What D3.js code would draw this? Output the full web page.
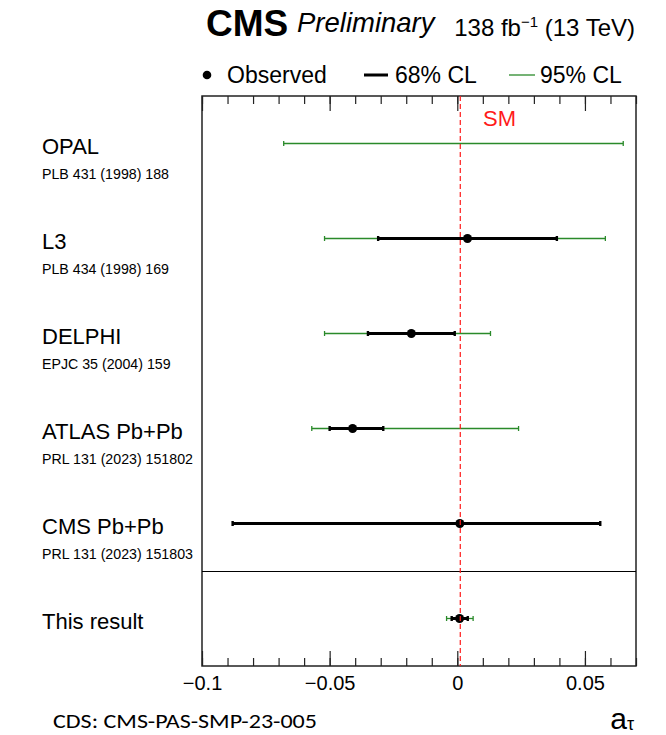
<!DOCTYPE html>
<html>
<head>
<meta charset="utf-8">
<title>a_tau summary</title>
<script src="https://cdn.jsdelivr.net/npm/d3@7"></script>
<style>
  body { margin: 0; background: #fff; }
  svg { display: block; }
</style>
</head>
<body>
<script>
/*jslint white: true */
/*global d3 */
"use strict";

var experiments = ["OPAL", "L3", "DELPHI", "ATLAS Pb+Pb", "CMS Pb+Pb", "This result"];
var references = ["PLB 431 (1998) 188", "PLB 434 (1998) 169", "EPJC 35 (2004) 159",
  "PRL 131 (2023) 151802", "PRL 131 (2023) 151803", ""];
var central = [null, 0.004, -0.018, -0.041, 0.001, 0.0009];
var lo68 = [null, -0.031, -0.035, -0.050, -0.088, -0.0022];
var hi68 = [null, 0.039, -0.001, -0.029, 0.056, 0.0041];
var lo95 = [-0.068, -0.052, -0.052, -0.057, null, -0.0042];
var hi95 = [0.065, 0.058, 0.013, 0.024, null, 0.0062];
var smValue = 0.00117;
var majorTicks = [-0.1, -0.05, 0, 0.05];
var minorTicks = d3.range(-10, 8).map(function (i) { return i / 100; });

(function () {
  var W = 666, H = 735,
    frame = { left: 202, right: 636, top: 96, bottom: 666 },
    green = "#2a8a2a",
    font = "'Liberation Sans', Arial, Helvetica, sans-serif",
    svg, x, y, rows, axisG, fmt;

  svg = d3.select("body").append("svg")
    .attr("width", W)
    .attr("height", H)
    .style("font-family", font);

  x = d3.scaleLinear().domain([-0.1, 0.07]).range([frame.left, frame.right]);
  y = d3.scaleBand().domain(experiments).range([frame.top, frame.bottom]);

  // header
  svg.append("text").text("CMS")
    .attr("x", 206).attr("y", 36)
    .attr("font-size", 37).attr("font-weight", "bold");
  svg.append("text").text("Preliminary")
    .attr("x", 297).attr("y", 32)
    .attr("font-size", 27.5).attr("font-style", "italic");
  (function () {
    var t = svg.append("text").attr("x", 635).attr("y", 36)
      .attr("font-size", 24).attr("text-anchor", "end");
    t.append("tspan").text("138 fb");
    t.append("tspan").text("\u22121").attr("font-size", 15).attr("dy", -9);
    t.append("tspan").text(" (13 TeV)").attr("dy", 9);
  }());

  // legend
  svg.append("circle").attr("cx", 207).attr("cy", 75).attr("r", 4.3).attr("fill", "#000");
  svg.append("text").text("Observed").attr("x", 227).attr("y", 83).attr("font-size", 23);
  svg.append("line").attr("x1", 364).attr("x2", 388).attr("y1", 75).attr("y2", 75)
    .attr("stroke", "#000").attr("stroke-width", 3);
  svg.append("text").text("68% CL").attr("x", 395).attr("y", 83).attr("font-size", 23);
  svg.append("line").attr("x1", 509).attr("x2", 535).attr("y1", 75).attr("y2", 75)
    .attr("stroke", green).attr("stroke-width", 1.3);
  svg.append("text").text("95% CL").attr("x", 540).attr("y", 83).attr("font-size", 23);

  // axes, ticks pointing inward on top and bottom
  fmt = function (d) { return d === 0 ? "0" : d3.format("")(d).replace("-", "\u2212"); };

  axisG = svg.append("g").attr("transform", "translate(0," + frame.bottom + ")")
    .call(d3.axisBottom(x).tickValues(minorTicks).tickSize(-8).tickFormat(""));
  axisG.select(".domain").remove();
  axisG = svg.append("g").attr("transform", "translate(0," + frame.bottom + ")")
    .call(d3.axisBottom(x).tickValues(majorTicks).tickSize(-15).tickPadding(10).tickFormat(fmt));
  axisG.select(".domain").remove();
  axisG.selectAll("text").attr("font-size", 20).attr("font-family", font).attr("fill", "#000");

  axisG = svg.append("g").attr("transform", "translate(0," + frame.top + ")")
    .call(d3.axisTop(x).tickValues(minorTicks).tickSize(-8).tickFormat(""));
  axisG.select(".domain").remove();
  axisG = svg.append("g").attr("transform", "translate(0," + frame.top + ")")
    .call(d3.axisTop(x).tickValues(majorTicks).tickSize(-15).tickFormat(""));
  axisG.select(".domain").remove();
  svg.selectAll(".tick line").attr("stroke", "#222").attr("stroke-width", 1.2);

  // frame and separator
  svg.append("rect")
    .attr("x", frame.left).attr("y", frame.top)
    .attr("width", frame.right - frame.left).attr("height", frame.bottom - frame.top)
    .attr("fill", "none").attr("stroke", "#222").attr("stroke-width", 1.5);
  svg.append("line")
    .attr("x1", frame.left).attr("x2", frame.right)
    .attr("y1", y("This result") + 0.5).attr("y2", y("This result") + 0.5)
    .attr("stroke", "#000").attr("stroke-width", 1.2);

  // row labels
  rows = svg.append("g").selectAll("g").data(experiments).join("g")
    .attr("transform", function (d) { return "translate(0," + (y(d) + y.bandwidth() / 2) + ")"; });
  rows.append("text").text(function (d) { return d; })
    .attr("x", 42).attr("y", 10).attr("font-size", 22);
  rows.append("text").text(function (d, i) { return references[i]; })
    .attr("x", 42).attr("y", 35).attr("font-size", 14.2);

  // 95% CL intervals
  rows.filter(function (d, i) { return lo95[i] !== null; }).each(function (d) {
    var i = experiments.indexOf(d), g = d3.select(this);
    g.append("line").attr("x1", x(lo95[i])).attr("x2", x(hi95[i]))
      .attr("stroke", green).attr("stroke-width", 1.3);
    [lo95[i], hi95[i]].forEach(function (v) {
      g.append("line").attr("x1", x(v)).attr("x2", x(v)).attr("y1", -2.5).attr("y2", 2.5)
        .attr("stroke", green).attr("stroke-width", 1.3);
    });
  });

  // 68% CL intervals
  rows.filter(function (d, i) { return lo68[i] !== null; }).each(function (d) {
    var i = experiments.indexOf(d), g = d3.select(this);
    g.append("line").attr("x1", x(lo68[i])).attr("x2", x(hi68[i]))
      .attr("stroke", "#000").attr("stroke-width", 3);
    [lo68[i], hi68[i]].forEach(function (v) {
      g.append("rect").attr("x", x(v) - 1.2).attr("y", -2.5).attr("width", 2.4).attr("height", 5)
        .attr("fill", "#000");
    });
  });

  // SM reference line
  svg.append("line")
    .attr("x1", x(smValue)).attr("x2", x(smValue))
    .attr("y1", frame.top).attr("y2", frame.bottom)
    .attr("stroke", "#ff1a1a").attr("stroke-width", 1.2).attr("stroke-dasharray", "5,3");
  svg.append("text").text("SM").attr("x", 483).attr("y", 126)
    .attr("font-size", 22).attr("fill", "#ff1a1a");

  // observed points
  rows.filter(function (d, i) { return central[i] !== null; })
    .append("circle")
    .attr("cx", function (d) { return x(central[experiments.indexOf(d)]); })
    .attr("r", 4.5).attr("fill", "#000");

  // x axis title and note
  (function () {
    var t = svg.append("text").attr("x", 634).attr("y", 729)
      .attr("font-size", 30).attr("text-anchor", "end");
    t.append("tspan").text("a");
    t.append("tspan").text("\u03c4").attr("font-size", 18).attr("dy", 1);
  }());
  svg.append("text").text("CDS: CMS-PAS-SMP-23-005")
    .attr("x", 53).attr("y", 728)
    .attr("font-family", "Carlito, Calibri, 'Open Sans', sans-serif")
    .attr("font-size", 20)
    .attr("textLength", 264).attr("lengthAdjust", "spacingAndGlyphs");
}());
</script>
</body>
</html>
